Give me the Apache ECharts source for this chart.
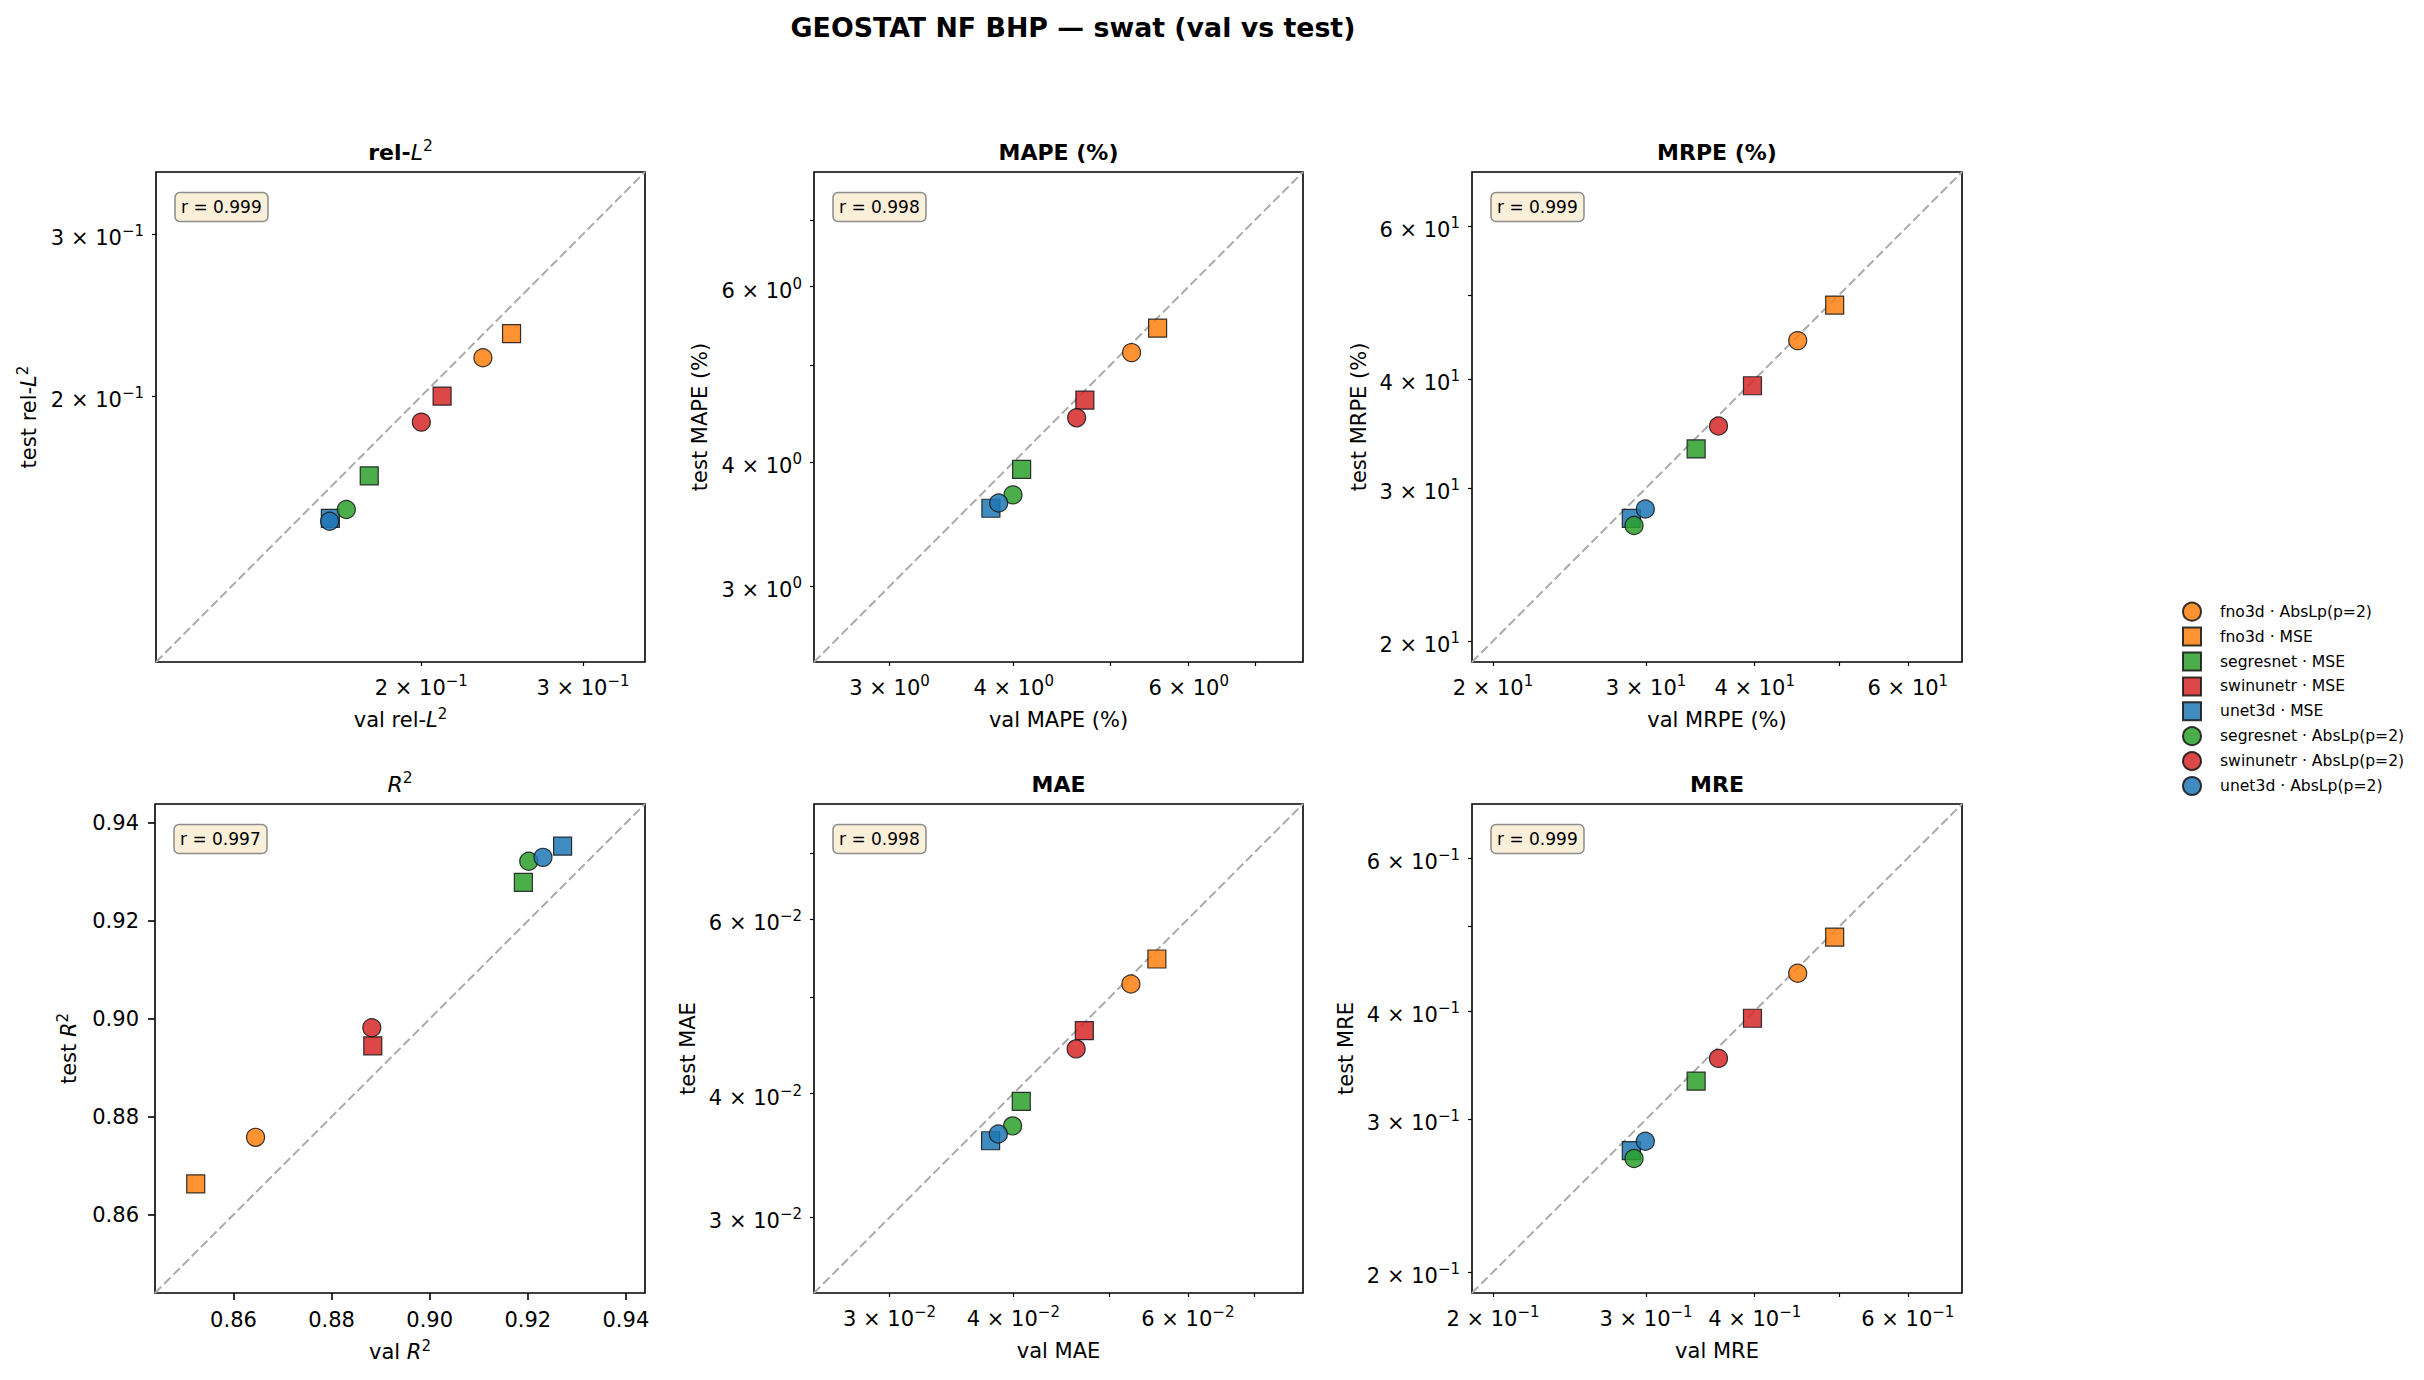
<!DOCTYPE html>
<html>
<head>
<meta charset="utf-8">
<title>GEOSTAT NF BHP — swat (val vs test)</title>
<script src="https://cdn.jsdelivr.net/npm/echarts@6/dist/echarts.min.js"></script>
<style>
  html, body { margin: 0; padding: 0; background: #fff; }
  #chart { width: 2424px; height: 1380px; }
</style>
</head>
<body>
<div id="chart"></div>
<script>
// runs, in legend (and drawing) order
const runNames = [
  "fno3d · AbsLp(p=2)",
  "fno3d · MSE",
  "segresnet · MSE",
  "swinunetr · MSE",
  "unet3d · MSE",
  "segresnet · AbsLp(p=2)",
  "swinunetr · AbsLp(p=2)",
  "unet3d · AbsLp(p=2)",
];
const runShapes = ["circle", "rect", "rect", "rect", "rect", "circle", "circle", "circle"];

// values, same order as runNames
const relL2Val = [0.2334, 0.2508, 0.1755, 0.2107, 0.1592, 0.1657, 0.2000, 0.1589];
const relL2Test = [0.2202, 0.2339, 0.1638, 0.2000, 0.1473, 0.1506, 0.1874, 0.1462];
const mapeVal = [5.256, 5.583, 4.074, 4.717, 3.794, 3.993, 4.628, 3.863];
const mapeTest = [5.150, 5.450, 3.932, 4.614, 3.593, 3.706, 4.429, 3.637];
const mrpeVal = [44.82, 49.43, 34.25, 39.76, 28.85, 29.06, 36.34, 29.94];
const mrpeTest = [44.31, 48.69, 33.26, 39.32, 27.67, 27.16, 35.35, 28.37];
const r2Val = [0.8645, 0.8523, 0.9191, 0.8884, 0.9271, 0.9202, 0.8882, 0.9231];
const r2Test = [0.8758, 0.8663, 0.9279, 0.8945, 0.9353, 0.9322, 0.8982, 0.9330];
const maeVal = [0.05256, 0.05583, 0.04074, 0.04717, 0.03794, 0.03993, 0.04628, 0.03863];
const maeTest = [0.05161, 0.05469, 0.03929, 0.04630, 0.03585, 0.03711, 0.04438, 0.03642];
const mreVal = [0.4482, 0.4943, 0.3425, 0.3976, 0.2885, 0.2906, 0.3634, 0.2994];
const mreTest = [0.4420, 0.4864, 0.3319, 0.3922, 0.2761, 0.2703, 0.3526, 0.2830];
const rValues = ["0.999", "0.998", "0.999", "0.997", "0.998", "0.999"];

// axis limits (same on x and y) and tick values
const relL2Lim = [0.1028, 0.3505];
const mapeLim = [2.518, 7.82];
const mrpeLim = [18.92, 69.25];
const r2Lim = [0.8440, 0.9439];
const maeLim = [0.02517, 0.0784];
const mreLim = [0.1892, 0.6925];
const relL2Ticks = [0.2, 0.3];
const relL2Labels = [0.2, 0.3];
const mapeTicks = [3, 4, 5, 6, 7];
const mapeLabels = [3, 4, 6];
const mrpeTicks = [20, 30, 40, 50, 60];
const mrpeLabels = [20, 30, 40, 60];
const r2Ticks = [0.86, 0.88, 0.90, 0.92, 0.94];
const maeTicks = [0.03, 0.04, 0.05, 0.06, 0.07];
const maeLabels = [0.03, 0.04, 0.06];
const mreTicks = [0.2, 0.3, 0.4, 0.5, 0.6];
const mreLabels = [0.2, 0.3, 0.4, 0.6];

const FONT = "DejaVu Sans";
const runColors = {
  fno3d: "rgba(255,127,14,0.85)",
  segresnet: "rgba(44,160,44,0.85)",
  swinunetr: "rgba(214,39,40,0.85)",
  unet3d: "rgba(31,119,180,0.85)",
};
const edgeColor = "rgba(20,20,20,0.85)";
const squarePath = "path://M0,0H10V10H0Z";

const panels = [
  { title: "{b|rel-}{i|L}{s|2}", x: "{n|val rel-}{i|L}{s|2}", y: "{n|test rel-}{i|L}{s|2}",
    val: relL2Val, test: relL2Test, lim: relL2Lim, ticks: relL2Ticks, labels: relL2Labels, log: true,
    box: [156, 172, 489, 490], yGap: 114 },
  { title: "{b|MAPE (%)}", x: "{n|val MAPE (%)}", y: "{n|test MAPE (%)}",
    val: mapeVal, test: mapeTest, lim: mapeLim, ticks: mapeTicks, labels: mapeLabels, log: true,
    box: [814, 172, 489, 490], yGap: 101 },
  { title: "{b|MRPE (%)}", x: "{n|val MRPE (%)}", y: "{n|test MRPE (%)}",
    val: mrpeVal, test: mrpeTest, lim: mrpeLim, ticks: mrpeTicks, labels: mrpeLabels, log: true,
    box: [1472, 172, 490, 490], yGap: 100 },
  { title: "{i|R}{s|2}", x: "{n|val }{i|R}{s|2}", y: "{n|test }{i|R}{s|2}",
    val: r2Val, test: r2Test, lim: r2Lim, ticks: r2Ticks, labels: r2Ticks, log: false,
    box: [155, 804, 490, 489], yGap: 73 },
  { title: "{b|MAE}", x: "{n|val MAE}", y: "{n|test MAE}",
    val: maeVal, test: maeTest, lim: maeLim, ticks: maeTicks, labels: maeLabels, log: true,
    box: [814, 804, 489, 489], yGap: 113 },
  { title: "{b|MRE}", x: "{n|val MRE}", y: "{n|test MRE}",
    val: mreVal, test: mreTest, lim: mreLim, ticks: mreTicks, labels: mreLabels, log: true,
    box: [1472, 804, 490, 489], yGap: 113 },
];

const supRich = {
  m: { fontFamily: FONT, fontSize: 21, lineHeight: 29, color: "#000" },
  s: { fontFamily: FONT, fontSize: 15, lineHeight: 15, verticalAlign: "top", color: "#000" },
};
const nameRich = {
  n: { fontFamily: FONT, fontSize: 21, lineHeight: 27, color: "#000" },
  i: { fontFamily: FONT, fontSize: 21, lineHeight: 27, fontStyle: "italic", color: "#000" },
  s: { fontFamily: FONT, fontSize: 15, lineHeight: 15, verticalAlign: "top", color: "#000" },
};
const titleRich = {
  b: { fontFamily: FONT, fontSize: 22, lineHeight: 28, fontWeight: "bold", color: "#000" },
  i: { fontFamily: FONT, fontSize: 22, lineHeight: 28, fontStyle: "italic", fontWeight: "normal", color: "#000" },
  s: { fontFamily: FONT, fontSize: 15.5, lineHeight: 15, verticalAlign: "top", fontWeight: "normal", color: "#000" },
};

function logLabel(v) {
  const e = Math.floor(v + 1e-9);
  const m = Math.round(Math.pow(10, v - e));
  return "{m|" + m + " × 10}{s|" + (e < 0 ? "−" : "") + Math.abs(e) + "}";
}

const grids = [], xAxes = [], yAxes = [], series = [], titles = [];

titles.push({
  text: "GEOSTAT NF BHP — swat (val vs test)",
  left: 1073, top: 12, padding: 0, textAlign: "center", textVerticalAlign: "top",
  textStyle: { fontFamily: FONT, fontSize: 26.8, fontWeight: "bold", color: "#000", lineHeight: 30 },
});

panels.forEach((p, i) => {
  const [gl, gt, gw, gh] = p.box;
  const tx = p.log ? (v) => Math.log10(v) : (v) => v;
  const lo = tx(p.lim[0]), hi = tx(p.lim[1]);

  grids.push({ left: gl, top: gt, width: gw, height: gh, show: true,
    borderColor: "#000", borderWidth: 1.6, backgroundColor: "transparent" });

  const axisBase = (isY) => ({
    type: "value", gridIndex: i, min: lo, max: hi,
    axisLine: { show: false }, splitLine: { show: false },
    axisTick: { show: true, length: p.log ? 4 : 7,
      lineStyle: { color: "#000", width: p.log ? 1.2 : 1.6 },
      customValues: p.ticks.map((v) => tx(v)) },
    axisLabel: p.log
      ? { customValues: p.labels.map((v) => tx(v)), formatter: logLabel, rich: supRich,
          margin: isY ? 12 : 11, padding: isY ? [8, 0, 0, 0] : 0 }
      : { customValues: p.labels.map((v) => tx(v)), formatter: (v) => v.toFixed(2),
          fontFamily: FONT, fontSize: 21, color: "#000", margin: 16 },
    nameLocation: "middle",
    nameTextStyle: { rich: nameRich },
  });

  xAxes.push(Object.assign(axisBase(false), { name: p.x, nameGap: p.log ? 44 : 45 }));
  yAxes.push(Object.assign(axisBase(true), { name: p.y, nameGap: p.yGap, nameRotate: 90 }));

  titles.push({
    text: p.title, left: gl + gw / 2, top: gt - 34, padding: 0,
    textAlign: "center", textVerticalAlign: "top",
    textStyle: { rich: titleRich, fontWeight: "normal" },
  });
  titles.push({
    text: "r = " + rValues[i], left: gl + 18.5, top: gt + 20.5, padding: [5, 6.5],
    textAlign: "left", textVerticalAlign: "top",
    backgroundColor: "#faefd9", borderColor: "#8c8c8c", borderWidth: 1.5, borderRadius: 5,
    textStyle: { fontFamily: FONT, fontSize: 17, fontWeight: "normal", lineHeight: 19, color: "#000" },
  });

  // y = x reference
  series.push({
    type: "line", xAxisIndex: i, yAxisIndex: i, data: [[lo, lo], [hi, hi]],
    symbol: "none", silent: true, z: 1,
    lineStyle: { color: "#ababab", width: 2, type: [9, 4] },
  });

  runNames.forEach((name, k) => {
    series.push({
      type: "scatter", name, xAxisIndex: i, yAxisIndex: i, z: 3,
      symbol: runShapes[k], symbolSize: 18,
      itemStyle: { color: runColors[name.split(" ")[0]], borderColor: edgeColor, borderWidth: 1.2, opacity: 1 },
      data: [[tx(p.val[k]), tx(p.test[k])]],
    });
  });
});

const chart = echarts.init(document.getElementById("chart"), null, { renderer: "svg" });
chart.setOption({
  animation: false,
  backgroundColor: "#fff",
  textStyle: { fontFamily: FONT },
  title: titles,
  grid: grids,
  xAxis: xAxes,
  yAxis: yAxes,
  legend: {
    orient: "vertical", left: 2182, top: 601.7, padding: 0,
    itemWidth: 18, itemHeight: 18, itemGap: 4.9, selectedMode: false,
    textStyle: { fontFamily: FONT, fontSize: 15.6, color: "#000", padding: [0, 0, 0, 14] },
    data: runNames.map((n, k) => ({ name: n, icon: runShapes[k] === "circle" ? "circle" : squarePath })),
  },
  series: series,
});
</script>
</body>
</html>
